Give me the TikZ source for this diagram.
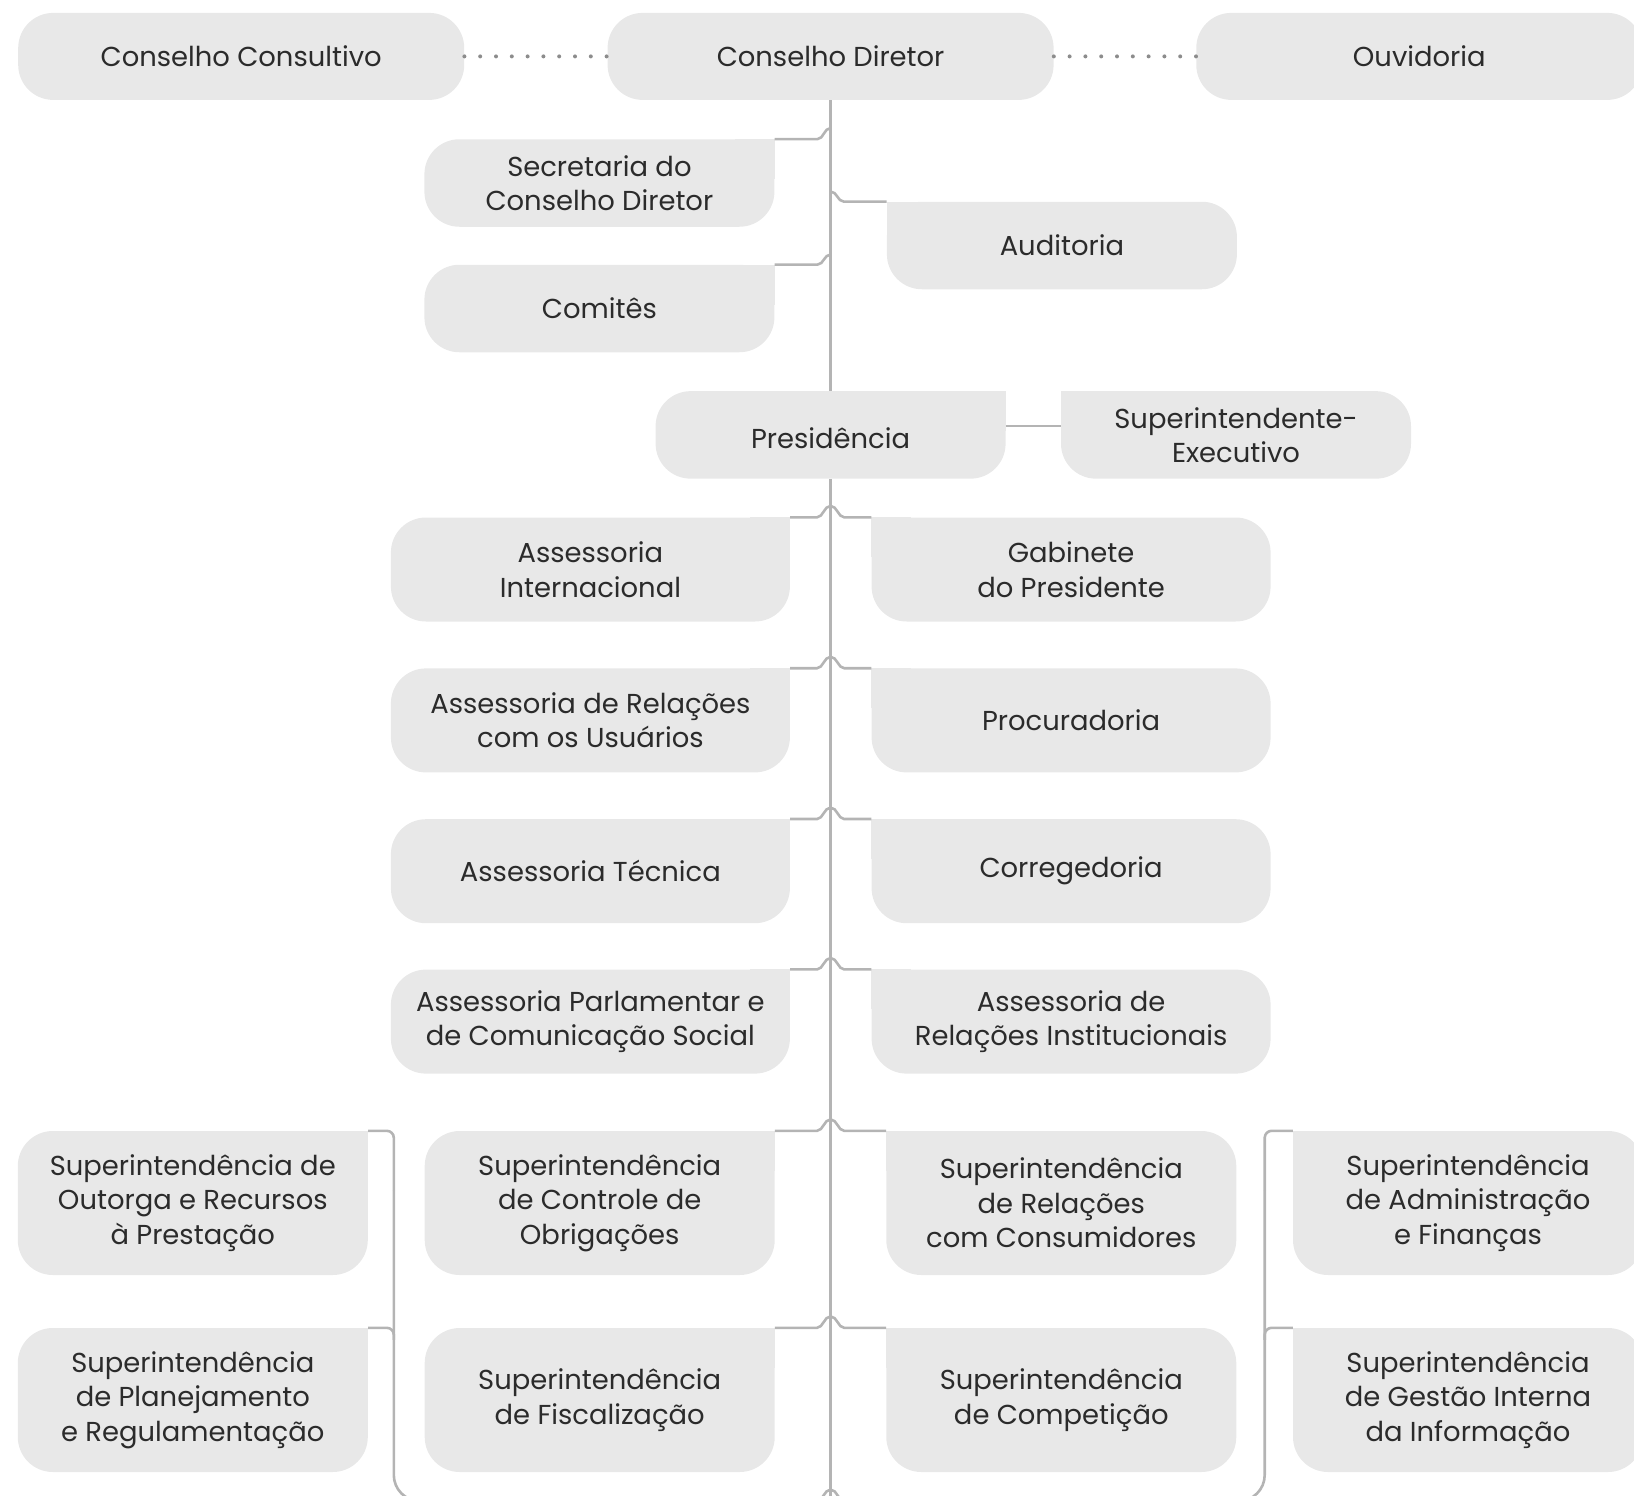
\documentclass[tikz,border=0pt]{standalone}
\usepackage{fontspec}
\setmainfont{Poppins}
\definecolor{boxfill}{HTML}{E8E8E8}
\definecolor{linec}{HTML}{B4B4B4}
\definecolor{txt}{HTML}{2B2B2B}
\definecolor{dotc}{HTML}{8C8C8C}
\pgfdeclarelayer{bg}
\pgfsetlayers{bg,main}
\newcommand\sqNE[1]{\begin{pgfonlayer}{bg}\fill[boxfill] (#1.north east) rectangle ++(-40,40);\end{pgfonlayer}}
\newcommand\sqNW[1]{\begin{pgfonlayer}{bg}\fill[boxfill] (#1.north west) rectangle ++(40,40);\end{pgfonlayer}}
\begin{document}
\begin{tikzpicture}[x=1pt,y=-1pt,
  box/.style={fill=boxfill, rounded corners=35pt, inner sep=0pt, align=center, text=txt,
    font=\fontsize{27.4}{34.4}\selectfont},
  topbox/.style={box, minimum width=446pt, minimum height=87pt},
  smallbox/.style={box, minimum width=350pt, minimum height=87.5pt},
  rowbox/.style={box, minimum width=399pt, minimum height=104pt},
  supbox/.style={box, minimum width=350pt, minimum height=144pt},
  conn/.style={draw=linec, line width=2.6pt},
  dots/.style={draw=dotc, line width=4pt, line cap=round, dash pattern=on 0pt off 15.8pt}]
\useasboundingbox (0,0) rectangle (1634,1496);

% top row
\node[topbox] (cc) at (241.2,56.4) {Conselho Consultivo};
\node[topbox] (cd) at (830.6,56.4) {Conselho Diretor};
\node[topbox] (ouv) at (1419.3,56.4) {Ouvidoria};
\draw[dots] (cc.east) -- (cd.west);
\draw[dots] (cd.east) -- (ouv.west);

% coordinates
\coordinate (bot) at (830.6,1530);
\coordinate (lb) at (393.8,1501);
\coordinate (rb) at (1264.7,1501);

% second level
\node[smallbox] (sec) at (599.4,183) {Secretaria do\\Conselho Diretor};
\node[smallbox] (aud) at (1061.9,245.5) {Auditoria};
\node[smallbox] (com) at (599.4,308.5) {Comitês};
\node[smallbox] (pres) at (830.6,434.9) {\raisebox{-3pt}[\height][\depth]{Presidência}};
\node[smallbox] (sup) at (1236,434.9) {Superintendente-\\Executivo};
\sqNE{sec}\sqNW{aud}\sqNE{com}\sqNE{pres}\sqNW{sup}

% rows
\node[rowbox] (ai) at (590.4,569.5) {Assessoria\\Internacional};
\node[rowbox] (gp) at (1071.1,569.5) {Gabinete\\do Presidente};
\node[rowbox] (aru) at (590.4,720.4) {Assessoria de Relações\\com os Usuários};
\node[rowbox] (proc) at (1071.1,720.4) {Procuradoria};
\node[rowbox] (at) at (590.4,871.2) {Assessoria Técnica};
\node[rowbox] (cor) at (1071.1,871.2) {Corregedoria};
\node[rowbox] (apc) at (590.4,1021.6) {Assessoria Parlamentar e\\de Comunicação Social};
\node[rowbox] (ari) at (1071.1,1021.6) {Assessoria de\\Relações Institucionais};
\sqNE{ai}\sqNW{gp}\sqNE{aru}\sqNW{proc}\sqNE{at}\sqNW{cor}\sqNE{apc}\sqNW{ari}

% superintendencias
\node[supbox] (sor) at (192.8,1203) {Superintendência de\\Outorga e Recursos\\à Prestação};
\node[supbox] (spr) at (192.8,1400) {Superintendência\\de Planejamento\\e Regulamentação};
\node[supbox] (sco) at (599.7,1203) {Superintendência\\de Controle de\\Obrigações};
\node[supbox] (sfi) at (599.7,1400) {Superintendência\\de Fiscalização};
\node[supbox] (src) at (1061.3,1203) {Superintendência\\de Relações\\com Consumidores};
\node[supbox] (scp) at (1061.3,1400) {Superintendência\\de Competição};
\node[supbox] (saf) at (1468,1203) {Superintendência\\de Administração\\e Finanças};
\node[supbox] (sgi) at (1468,1400) {Superintendência\\de Gestão Interna\\da Informação};
\sqNE{sor}\sqNE{spr}\sqNE{sco}\sqNE{sfi}\sqNW{src}\sqNW{scp}\sqNW{saf}\sqNW{sgi}

% main vertical line
\draw[conn] (cd.south) -- (pres.north);
\draw[conn] (pres.south) -- (bot);

% presidencia - superintendente
\draw[conn] ([yshift=9pt]pres.east) -- ([yshift=9pt]pres.east -| sup.west);

% half-hump joins (second level)
\draw[conn] (sec.north east) -- ([xshift=-13pt]sec.north east -| cd.south)
  .. controls +(6,0) and +(-6.5,0) .. ([yshift=11pt]sec.north east -| cd.south);
\draw[conn] (com.north east) -- ([xshift=-13pt]com.north east -| cd.south)
  .. controls +(6,0) and +(-6.5,0) .. ([yshift=10pt]com.north east -| cd.south);
\draw[conn] ([yshift=10pt]aud.north west -| cd.south)
  .. controls +(6.5,0) and +(-6,0) .. ([xshift=13pt]aud.north west -| cd.south) -- (aud.north west);

% humps
\newcommand\hump[2]{%
\draw[conn] (#1.north east) -- ([xshift=-13.5pt]#1.north east -| cd.south)
  .. controls +(6,0) and +(-6.5,0) .. ([yshift=11.4pt]#1.north east -| cd.south)
  .. controls +(6.5,0) and +(-6,0) .. ([xshift=13.5pt]#1.north east -| cd.south) -- (#2.north west);}
\hump{ai}{gp}
\hump{aru}{proc}
\hump{at}{cor}
\hump{apc}{ari}
\hump{sco}{src}
\hump{sfi}{scp}

% left bracket
\draw[conn, rounded corners=7pt] (sor.north east) -- (sor.north east -| lb) -- ([yshift=-60pt]sor.north east -| lb);
\draw[conn, rounded corners=7pt] (spr.north east) -- (spr.north east -| lb) -- ([yshift=-12pt]spr.north east -| lb);
\draw[conn, rounded corners=26pt] ([yshift=-60pt]sor.north east -| lb) -- (lb) -- ([xshift=-13.5pt]lb -| cd.south);
\draw[conn] ([xshift=-13.5pt]lb -| cd.south)
  .. controls +(6,0) and +(-6.5,0) .. ([yshift=11.4pt]lb -| cd.south)
  .. controls +(6.5,0) and +(-6,0) .. ([xshift=13.5pt]lb -| cd.south);
% right bracket
\draw[conn, rounded corners=26pt] ([xshift=13.5pt]rb -| cd.south) -- (rb) -- ([yshift=-60pt]saf.north west -| rb);
\draw[conn, rounded corners=7pt] ([yshift=-60pt]saf.north west -| rb) -- (saf.north west -| rb) -- (saf.north west);
\draw[conn, rounded corners=7pt] ([yshift=-12pt]sgi.north west -| rb) -- (sgi.north west -| rb) -- (sgi.north west);
\end{tikzpicture}
\end{document}
